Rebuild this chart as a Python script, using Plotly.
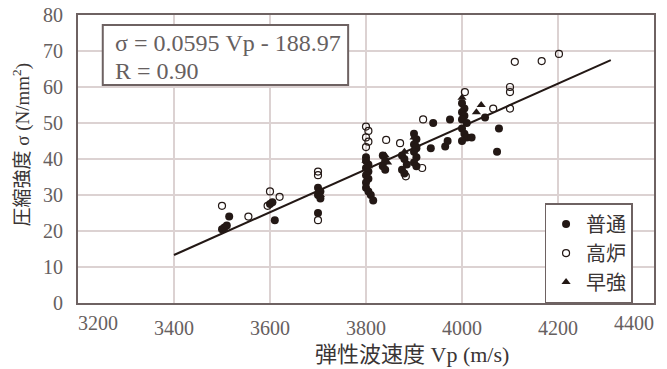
import plotly.graph_objects as go

# ---- data ----
futsu_x = [3500, 3505, 3510, 3515,
           3600, 3605, 3610,
           3700, 3705, 3700, 3705, 3700,
           3800, 3800, 3805, 3800, 3805, 3800, 3805, 3800, 3800, 3805, 3810, 3815,
           3835, 3840, 3835, 3840,
           3875, 3880, 3885, 3875, 3880,
           3900, 3905, 3900, 3905, 3900, 3905, 3900, 3905,
           3940, 3975, 3935, 3965, 3970,
           4000, 4005, 4000, 4005, 4000, 4010, 4000, 4005, 4010, 4000, 4020,
           4048, 4077, 4073]
futsu_y = [20.5, 21.0, 21.5, 24.0,
           27.5, 28.0, 23.0,
           32.0, 31.0, 30.0, 29.0, 25.0,
           40.5, 39.5, 38.5, 37.5, 36.5, 35.5, 34.5, 33.5, 32.0, 31.0, 30.0, 28.5,
           41.0, 39.5, 38.0, 37.0,
           41.0, 40.0, 38.5, 37.0, 36.0,
           47.0, 45.5, 44.0, 43.0, 42.0, 40.5, 39.0, 38.0,
           50.0, 51.0, 43.0, 43.5, 45.0,
           55.5, 54.0, 53.0, 52.0, 51.0, 50.0, 48.5, 47.0, 46.0, 45.0, 46.0,
           51.5, 48.5, 42.0]

koro_x = [3500, 3555, 3600, 3620, 3595,
          3700, 3700, 3700,
          3800, 3805, 3800, 3805, 3800,
          3842, 3871, 3883, 3917, 3919,
          4006, 4065, 4100, 4100, 4100,
          4110, 4166, 4202]
koro_y = [27.0, 24.0, 31.0, 29.5, 27.0,
          36.5, 35.5, 23.0,
          49.0, 47.8, 46.0, 44.8, 43.3,
          45.3, 44.4, 35.2, 37.5, 51.0,
          58.6, 54.0, 58.6, 60.0, 54.0,
          67.0, 67.2, 69.2]

soukyo_x = [3700, 3705, 3800, 3805, 3840, 3845, 3880, 3900, 3905, 4000, 4030, 4040]
soukyo_y = [31.0, 30.0, 39.5, 38.0, 41.0, 39.0, 42.0, 46.0, 44.0, 57.0, 53.0, 55.0]

# regression line
slope = 0.0595
intercept = -188.97
line_x = [3400, 4310]
line_y = [slope * v + intercept for v in line_x]

x_ticks = [3200, 3400, 3600, 3800, 4000, 4200, 4400]
y_ticks = [0, 10, 20, 30, 40, 50, 60, 70, 80]

MARK = "#231815"
GRID = "#dcd2d2"
FRAME = "#6e6262"
TXT = "#666060"
TTL = "#3a3535"
SERIF = "Liberation Serif, Noto Sans CJK JP"

fig = go.Figure()
fig.add_trace(go.Scatter(x=line_x, y=line_y, mode="lines",
                         line=dict(color=MARK, width=2), showlegend=False,
                         hoverinfo="skip"))
fig.add_trace(go.Scatter(x=futsu_x, y=futsu_y, mode="markers", name="普通",
                         marker=dict(symbol="circle", size=8, color=MARK)))
fig.add_trace(go.Scatter(x=koro_x, y=koro_y, mode="markers", name="高炉",
                         marker=dict(symbol="circle-open", size=7, color=MARK,
                                     line=dict(width=1.2, color=MARK))))
fig.add_trace(go.Scatter(x=soukyo_x, y=soukyo_y, mode="markers", name="早強",
                         marker=dict(symbol="triangle-up", size=8, color=MARK)))

# inner ticks drawn by the axis; the two end labels are nudged inward below
inner_ticks = x_ticks[1:-1]
fig.update_xaxes(range=[3200, 4400], tickmode="array", tickvals=inner_ticks,
                 ticktext=[str(v) for v in inner_ticks],
                 showgrid=True, gridcolor=GRID, gridwidth=1.5,
                 showline=True, linecolor=FRAME, linewidth=2, mirror=True,
                 ticks="", ticklabelstandoff=6, zeroline=False, automargin=False,
                 tickfont=dict(family=SERIF, size=20, color=TXT))
fig.update_yaxes(range=[0, 80], tickmode="array", tickvals=y_ticks,
                 showgrid=True, gridcolor=GRID, gridwidth=1.5,
                 showline=True, linecolor=FRAME, linewidth=2, mirror=True,
                 ticks="", ticklabelstandoff=9, zeroline=False, automargin=False,
                 tickfont=dict(family=SERIF, size=20, color=TXT))

annotations = [
    # end tick labels shifted inward like the reference
    dict(x=x_ticks[0], y=0, xref="x", yref="paper", text=str(x_ticks[0]),
         showarrow=False, xanchor="left", yanchor="top", xshift=-2, yshift=-7,
         font=dict(family=SERIF, size=20, color=TXT)),
    dict(x=x_ticks[-1], y=0, xref="x", yref="paper", text=str(x_ticks[-1]),
         showarrow=False, xanchor="right", yanchor="top", xshift=2, yshift=-7,
         font=dict(family=SERIF, size=20, color=TXT)),
    # axis titles
    dict(x=0.58, y=0, xref="paper", yref="paper", text="弾性波速度 Vp (m/s)",
         showarrow=False, xanchor="center", yanchor="middle", yshift=-51,
         font=dict(family=SERIF, size=22, color=TTL)),
    dict(x=0, y=0.55, xref="paper", yref="paper",
         text="圧縮強度 σ (N/mm<sup>2</sup>)", textangle=-90,
         showarrow=False, xanchor="center", yanchor="middle", xshift=-56,
         font=dict(family=SERIF, size=19, color=TTL)),
    # equation box text
    dict(x=0.06, y=0.903, xref="paper", yref="paper",
         text="σ = 0.0595 Vp - 188.97", showarrow=False,
         xanchor="left", yanchor="middle",
         font=dict(family=SERIF, size=24, color=TXT)),
    dict(x=0.06, y=0.806, xref="paper", yref="paper",
         text="R = 0.90", showarrow=False,
         xanchor="left", yanchor="middle",
         font=dict(family=SERIF, size=24, color=TXT)),
]

shapes = [
    dict(type="rect", xref="paper", yref="paper", x0=0.043, x1=0.469,
         y0=0.757, y1=0.965, line=dict(color=FRAME, width=2),
         fillcolor="white", layer="above"),
]

fig.update_layout(
    width=667, height=369,
    margin=dict(l=78, r=13, t=15, b=66),
    paper_bgcolor="white", plot_bgcolor="white",
    annotations=annotations, shapes=shapes,
    legend=dict(x=0.81, y=0.347, xanchor="left", yanchor="top",
                bgcolor="white", bordercolor=FRAME, borderwidth=1.5,
                font=dict(family=SERIF, size=20, color=TTL),
                itemwidth=30, tracegroupgap=0),
)

fig.write_html("out.html")
